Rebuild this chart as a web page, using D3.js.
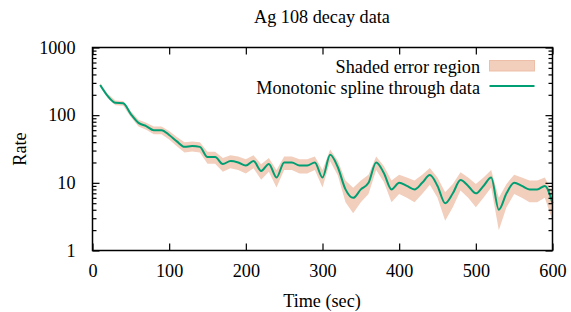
<!DOCTYPE html>
<html>
<head>
<meta charset="utf-8">
<title>Ag 108 decay data</title>
<style>
body { margin: 0; background: #fff; }
text { font-family: "Liberation Serif", "Times New Roman", serif; font-size: 18.2px; fill: #000; }
.frame { fill: none; stroke: #000; stroke-width: 1.5px; }
.ax line { stroke: #000; stroke-width: 1.2px; }
</style>
</head>
<body>
<script src="https://cdn.jsdelivr.net/npm/d3@7"></script>
<script>
// Ag 108 decay: time (sec), counting rate, error
var times = [10,20,30,40,50,60,70,80,90,100,110,120,130,140,150,160,170,180,190,200,
  210,220,230,240,250,260,270,280,290,300,310,320,330,340,350,360,370,380,390,400,
  410,420,430,440,450,460,470,480,490,500,510,520,530,540,550,560,570,580,590,600];
var rates = [280,191,152,150,104,77,69,60,60,51,41,34,35,34,24,24,19,21,20,18,
  21,15,19,12,20,20,18,18,20,12,26,17,8,6,8,10,20,14,8,10,
  9,8,10,13,9,5,7,11,9,7,9,12,4,7,10,9,8,8,9,5];
var errors = [16.75,13.85,12.37,12.30,10.24,8.81,8.31,7.75,7.75,7.14,6.40,5.83,5.92,5.83,4.90,4.90,4.36,4.58,4.47,4.24,
  4.58,3.87,4.36,3.46,4.47,4.47,4.24,4.24,4.47,3.46,5.10,4.12,2.83,2.45,2.83,3.16,4.47,3.74,2.83,3.16,
  3.00,2.83,3.16,3.61,3.00,2.24,2.65,3.32,3.00,2.65,3.00,3.46,2.00,2.65,3.16,3.00,2.83,2.83,3.00,2.24];
var xTicks = [0,100,200,300,400,500,600];
var yTicks = [1,10,100,1000];

var W = 571, H = 312;
var pLeft = 92.5, pRight = 552.5, pTop = 47.5, pBottom = 250.5;

var data = times.map(function(t, i) {
  return { t: t, r: rates[i], e: errors[i] };
});

var x = d3.scaleLinear().domain([0, 600]).range([pLeft, pRight]);
var y = d3.scaleLog().domain([1, 1000]).range([pBottom, pTop]);

var svg = d3.select("body").append("svg")
  .attr("width", W).attr("height", H);

// error band
var area = d3.area()
  .x(function(d) { return x(d.t); })
  .y0(function(d) { return y(Math.max(d.r - d.e, 1)); })
  .y1(function(d) { return y(d.r + d.e); });

svg.append("path")
  .datum(data)
  .attr("d", area)
  .attr("fill", "#f2cebd")
  .attr("stroke", "none");

var line = d3.line()
  .curve(d3.curveMonotoneX)
  .x(function(d) { return x(d.t); })
  .y(function(d) { return y(d.r); });

svg.append("path")
  .datum(data)
  .attr("d", line)
  .attr("fill", "none")
  .attr("stroke", "#009e73")
  .attr("stroke-width", 2);

// axes: inward ticks, mirrored
var minorY = [];
[1, 10, 100].forEach(function(b) {
  for (var k = 2; k <= 9; k++) minorY.push(b * k);
});

function clean(g) {
  g.select(".domain").remove();
  g.attr("font-family", null).attr("font-size", null);
}

svg.append("g").attr("class", "ax")
  .attr("transform", "translate(0," + pBottom + ")")
  .call(d3.axisBottom(x).tickValues(xTicks).tickSize(-7).tickPadding(14).tickFormat(d3.format("d")))
  .call(clean);

svg.append("g").attr("class", "ax")
  .attr("transform", "translate(0," + pTop + ")")
  .call(d3.axisTop(x).tickValues(xTicks).tickSize(-7).tickFormat(""))
  .call(clean);

svg.append("g").attr("class", "ax")
  .attr("transform", "translate(" + pLeft + ",0)")
  .call(d3.axisLeft(y).tickValues(yTicks).tickSize(-7).tickPadding(17).tickFormat(d3.format("d")))
  .call(clean);

svg.append("g").attr("class", "ax")
  .attr("transform", "translate(" + pLeft + ",0)")
  .call(d3.axisLeft(y).tickValues(minorY).tickSize(-4).tickFormat(""))
  .call(clean);

svg.append("g").attr("class", "ax")
  .attr("transform", "translate(" + pRight + ",0)")
  .call(d3.axisRight(y).tickValues(yTicks).tickSize(-7).tickFormat(""))
  .call(clean);

svg.append("g").attr("class", "ax")
  .attr("transform", "translate(" + pRight + ",0)")
  .call(d3.axisRight(y).tickValues(minorY).tickSize(-4).tickFormat(""))
  .call(clean);

svg.append("rect").attr("class", "frame")
  .attr("x", pLeft).attr("y", pTop)
  .attr("width", pRight - pLeft).attr("height", pBottom - pTop);

// titles
svg.append("text").attr("x", 322).attr("y", 23).attr("text-anchor", "middle")
  .text("Ag 108 decay data");
svg.append("text").attr("x", 322).attr("y", 307).attr("text-anchor", "middle")
  .text("Time (sec)");
svg.append("text").attr("transform", "translate(26," + ((pTop + pBottom) / 2) + ") rotate(-90)")
  .attr("text-anchor", "middle").text("Rate");

// legend
var legend = svg.append("g");
legend.append("text").attr("x", 480).attr("y", 73).attr("text-anchor", "end")
  .text("Shaded error region");
legend.append("rect").attr("x", 489.5).attr("y", 60.5).attr("width", 45).attr("height", 10.5)
  .attr("fill", "#f2cebd").attr("stroke", "#eebfa8");
legend.append("text").attr("x", 480).attr("y", 94).attr("text-anchor", "end")
  .text("Monotonic spline through data");
legend.append("line").attr("x1", 489.5).attr("x2", 534.5).attr("y1", 86).attr("y2", 86)
  .attr("stroke", "#009e73").attr("stroke-width", 2);
</script>
</body>
</html>
